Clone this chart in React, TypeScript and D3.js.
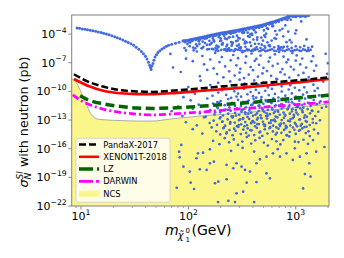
import React from 'react';
import * as d3 from 'd3';

const W = 344;
const H = 258;
const PLOT = { left: 71.7, top: 15, right: 329, bottom: 206 };

const massDomain: [number, number] = [8.2, 2040];
const sigmaDomain: [number, number] = [1e-22, 1e-2];

const xTickValues = [10, 100, 1000];
const xTickExps = ['1', '2', '3'];
const yTickValues = [1e-22, 1e-19, 1e-16, 1e-13, 1e-10, 1e-7, 1e-4];
const yTickExps = ['−22', '−19', '−16', '−13', '−10', '−7', '−4'];

// Experimental limits
const pandaxMass = [8.6, 12.1, 16.1, 23.1, 33, 46.8, 67.4, 136.6, 282.5, 575, 1160, 2040];
const pandaxSigma = [6.3e-9, 8.7e-10, 3.2e-10, 1.35e-10, 1e-10, 8.9e-11, 1.15e-10, 2.2e-10, 4.6e-10, 8.7e-10, 1.6e-9, 2.9e-9];
const xenonMass = [8.6, 12.1, 16.1, 23.1, 33, 46.8, 67.4, 136.6, 282.5, 575, 1160, 2040];
const xenonSigma = [2e-9, 3.2e-10, 1.15e-10, 6.3e-11, 5.2e-11, 5.2e-11, 6.3e-11, 1.15e-10, 2.2e-10, 4.6e-10, 1e-9, 2e-9];
const lzMass = [9.8, 12.1, 16.1, 23.1, 33, 46.8, 67.4, 136.6, 282.5, 575, 1160, 2040];
const lzSigma = [3.5e-11, 1.1e-11, 5e-12, 2.7e-12, 1.8e-12, 1.66e-12, 1.8e-12, 2.9e-12, 5.5e-12, 1.05e-11, 2.3e-11, 4e-11];
const darwinMass = [8.4, 9.8, 12.1, 16.1, 23.1, 33, 46.8, 67.4, 136.6, 282.5, 575, 1160, 2040];
const darwinSigma = [4.4e-11, 1.26e-11, 4e-12, 1.4e-12, 6.3e-13, 4.2e-13, 3.5e-13, 4.2e-13, 7.2e-13, 1.4e-12, 2.5e-12, 4.7e-12, 7.9e-12];
const ncsMass = [8.2, 9.1, 10.15, 11.3, 13.0, 15.0, 23.1, 33, 46.8, 67.4, 136.6, 282.5, 575, 1160, 2040];
const ncsSigma = [2.3e-9, 7e-10, 6.3e-11, 3.7e-12, 2.2e-13, 1.15e-13, 8.9e-14, 7.9e-14, 7.9e-14, 1.26e-13, 2.8e-13, 5e-13, 1.1e-12, 2.5e-12, 4.7e-12];

// Scan points [mass (GeV), sigma (pb)]
const ridgePoints: [number, number][] = [
  [9.2, 4.4e-4], [9.7, 4.0e-4], [10.3, 3.5e-4], [10.9, 3.2e-4], [11.5, 2.9e-4], [12.2, 2.6e-4], [12.9, 2.3e-4],
  [13.7, 1.95e-4], [14.5, 1.7e-4], [15.4, 1.45e-4], [16.3, 1.23e-4], [17.3, 1.02e-4], [18.3, 8.5e-5], [19.4, 6.8e-5],
  [20.6, 5.2e-5], [21.8, 4.2e-5], [23.1, 3.2e-5], [24.5, 2.45e-5], [26, 1.8e-5], [27.5, 1.35e-5], [29.2, 9.8e-6],
  [30.9, 6.6e-6], [32.7, 4.3e-6], [34.6, 2.6e-6], [36.5, 1.55e-6], [38.2, 8.9e-7], [39.8, 4.9e-7], [41.2, 2.4e-7],
  [42.5, 1.1e-7], [43.6, 5.6e-8], [44.5, 3.2e-8], [45.0, 2e-8], [45.8, 4.5e-8], [46.8, 8.5e-8], [47.8, 1.8e-7],
  [48.9, 4e-7], [50.5, 7e-7], [52.1, 1.2e-6], [54.3, 1.8e-6], [56.8, 2.75e-6], [59.5, 3.8e-6], [62.5, 5.5e-6],
  [65.5, 6.9e-6], [70, 8.5e-6], [76, 1.07e-5], [82, 1.38e-5], [89, 1.9e-5],
];

const bandEdgePoints: [number, number][] = [
  [90, 2e-5], [97, 2.2e-5], [105, 2.7e-5], [113, 3.2e-5], [122, 3.8e-5], [131, 4.5e-5], [141, 5.4e-5], [152, 6.6e-5],
  [163, 7.9e-5], [175, 9.3e-5], [188, 1.1e-4], [202, 1.3e-4], [217, 1.5e-4], [233, 1.7e-4], [250, 1.95e-4],
  [268, 2.2e-4], [288, 2.6e-4], [309, 3.1e-4], [332, 3.6e-4], [356, 4.3e-4], [382, 5e-4], [410, 5.9e-4],
  [440, 6.9e-4], [472, 8.1e-4], [506, 1e-3], [543, 1.26e-3], [583, 1.6e-3], [625, 2e-3], [671, 2.6e-3],
  [720, 3.5e-3], [772, 4.7e-3], [828, 6e-3], [888, 7.6e-3],
  [850, 8e-3], [920, 9e-3], [960, 7.5e-3], [1000, 9e-3], [1050, 8.5e-3], [1100, 9.3e-3], [1150, 8e-3],
  [1200, 9e-3], [1260, 8.2e-3], [1320, 8.8e-3], [1000, 6.5e-3], [1100, 7e-3], [1230, 6.8e-3], [940, 8.3e-3], [1180, 8.6e-3],
  [93.5, 2.1e-5], [101, 2.45e-5], [109, 2.95e-5], [117.5, 3.5e-5], [126.5, 4.1e-5], [136, 4.9e-5], [146.5, 6e-5], [157.5, 7.2e-5],
  [169, 8.6e-5], [181.5, 1e-4], [195, 1.2e-4], [209.5, 1.4e-4], [225, 1.6e-4], [241.5, 1.82e-4], [259, 2.07e-4], [278, 2.4e-4],
  [298, 2.85e-4], [320, 3.35e-4], [344, 3.95e-4], [369, 4.65e-4], [396, 5.45e-4], [425, 6.4e-4], [456, 7.5e-4], [489, 9e-4],
  [524, 1.12e-3], [563, 1.42e-3], [604, 1.8e-3], [648, 2.3e-3], [695, 3e-3], [746, 4.05e-3], [800, 5.3e-3], [858, 6.8e-3],
  [93.5, 1.5e-5], [101, 1.9e-5], [109, 2e-5], [117.5, 2.6e-5], [126.5, 2.7e-5], [136, 3.8e-5], [146.5, 4.2e-5], [157.5, 5.2e-5],
  [169, 6.1e-5], [181.5, 7.5e-5], [195, 8.2e-5], [209.5, 1.05e-4], [225, 1.1e-4], [241.5, 1.4e-4], [259, 1.45e-4], [278, 1.8e-4],
  [298, 2e-4], [320, 2.5e-4], [344, 2.7e-4], [369, 3.4e-4], [396, 3.8e-4], [425, 4.7e-4], [456, 5.1e-4], [489, 6.8e-4],
  [524, 7.8e-4], [563, 1.05e-3], [604, 1.25e-3], [648, 1.7e-3], [695, 2.1e-3], [746, 3e-3], [800, 3.7e-3], [858, 5e-3],
];

const bandPoints: [number, number][] = [
  [170, 2.6e-6], [190, 1.7e-6], [215, 2.4e-6], [240, 1.9e-6], [265, 1.6e-6], [290, 2.3e-6], [320, 1.8e-6], [350, 2.5e-6],
  [385, 1.7e-6], [420, 2.2e-6], [460, 1.6e-6], [500, 2.4e-6], [550, 1.9e-6], [600, 2.6e-6], [660, 1.7e-6], [720, 2.3e-6],
  [790, 1.65e-6], [860, 2.5e-6], [940, 1.8e-6], [1030, 2.35e-6], [1120, 1.7e-6], [1220, 2.2e-6], [1330, 1.85e-6],
  [1080, 1.9e-6], [1170, 2.5e-6], [1270, 1.65e-6], [1380, 2.3e-6], [980, 2.05e-6], [900, 1.7e-6], [825, 2.2e-6], [755, 1.9e-6],
  [690, 2.55e-6], [630, 1.8e-6], [575, 2.2e-6], [525, 1.7e-6], [480, 2e-6], [440, 2.6e-6], [402, 1.9e-6], [367, 2.15e-6],
  [335, 1.65e-6], [305, 2e-6], [277, 2.45e-6], [252, 2.1e-6], [227, 1.75e-6], [202, 2.2e-6], [180, 1.9e-6],
  [520, 3.8e-6], [575, 5.2e-6], [630, 4.1e-6], [690, 5.6e-6], [760, 3.9e-6], [835, 4.9e-6], [915, 3.6e-6], [1000, 5.3e-6],
  [1100, 4.2e-6], [1200, 5.8e-6], [1310, 3.7e-6], [1420, 4.8e-6],
  [92, 3.5e-6], [108, 2.3e-5], [118, 8.5e-6], [133, 3.3e-6], [148, 3.7e-5], [158, 7.8e-6], [172, 2.3e-5], [186, 2.9e-6],
  [198, 1.95e-5], [212, 1.26e-4], [226, 5e-6], [243, 4.7e-5], [256, 9.3e-6], [274, 2.6e-6], [292, 4.1e-5], [306, 3.5e-6],
  [326, 1.86e-4], [341, 1.62e-5], [365, 2.3e-6], [390, 1.12e-4], [417, 9.5e-6], [447, 5.5e-4], [478, 4.3e-5], [512, 5.6e-6],
  [552, 3.5e-4], [596, 2.1e-5], [645, 2.1e-4], [702, 3.5e-6], [765, 5.9e-5], [835, 3e-3], [915, 1.32e-5], [1010, 2.5e-4],
  [1125, 2.1e-3], [1260, 2.8e-5],
  [103, 5.4e-6], [112, 2e-6], [125, 1.74e-5], [138, 4.7e-6], [153, 5.6e-5], [165, 1.23e-5], [179, 3.6e-6], [192, 4.9e-5],
  [205, 8.3e-6], [219, 3.5e-5], [235, 2.7e-6], [250, 1.48e-5], [265, 1.55e-4], [283, 5.9e-6], [300, 3.5e-5], [318, 1.35e-4],
  [335, 1.05e-5], [355, 2e-6], [378, 9.5e-5], [403, 2.7e-5], [432, 4.4e-6], [462, 7.4e-4], [495, 2.1e-5], [530, 1.12e-4],
  [570, 7.2e-6], [615, 7.2e-4], [665, 8.9e-5], [730, 4.1e-6], [800, 8.1e-4], [880, 2.3e-5],
  [98, 9.1e-6], [116, 3.3e-6], [129, 2.8e-5], [143, 1.17e-5], [156, 2.7e-6], [169, 3.5e-5], [183, 6.3e-6], [196, 1e-4],
  [209, 1.15e-5], [223, 2.5e-6], [238, 4.4e-5], [253, 6.2e-6], [270, 1.48e-4], [288, 2.1e-5], [308, 4.1e-6], [330, 1.38e-4],
  [350, 1.32e-5], [372, 5.1e-5], [396, 2.2e-6], [424, 1.48e-4], [452, 9.8e-6], [485, 6e-4], [520, 5.1e-5], [560, 6.3e-6],
  [605, 6.5e-4], [655, 3.2e-5], [710, 2.5e-4], [775, 4.6e-6], [850, 1.82e-4], [940, 6.8e-3],
  [101, 1.45e-5], [121, 5.4e-6], [136, 1.62e-5], [150, 2.5e-6], [162, 9.8e-6], [176, 6.8e-5], [189, 4.8e-6], [202, 2.1e-5],
  [216, 6.9e-5], [230, 7.9e-6], [246, 1.95e-6], [261, 5.4e-5], [278, 1.86e-5], [297, 3.8e-6], [314, 3.1e-4], [338, 1.45e-5],
  [360, 6e-5], [384, 5.8e-6], [410, 2.6e-4], [438, 4.5e-5], [470, 3.5e-6], [505, 2.4e-4], [545, 1.38e-5], [588, 1.23e-3],
  [635, 3.7e-5], [690, 3e-6], [750, 3.6e-4], [820, 1.41e-5], [900, 3.2e-3], [990, 1.15e-4],
  [95, 1.95e-6], [104, 1.35e-5], [111, 3.9e-6], [119, 2.95e-5], [127, 9.3e-6], [134, 3.3e-6], [142, 3.3e-5], [149, 7.4e-6],
  [157, 2e-5], [166, 2.8e-6], [174, 1.66e-5], [182, 9.3e-5], [191, 4.6e-6], [200, 3.5e-5], [208, 8.1e-6], [218, 2.5e-6],
  [228, 2.95e-5], [239, 3.2e-6], [249, 1.12e-4], [259, 1.26e-5], [271, 2.3e-6], [284, 6.9e-5], [296, 7.8e-6], [311, 2.45e-4],
  [325, 2.6e-5], [340, 4.7e-6], [357, 1.41e-4], [375, 1.35e-5], [393, 8.1e-5], [415, 3e-6], [437, 2.6e-5], [458, 4.8e-4],
  [483, 7.9e-6], [510, 7.2e-5], [540, 4.1e-4],
];

const scanPoints: [number, number][] = [
  [68, 8.3e-7], [95, 2.7e-7], [120, 1.5e-6], [135, 5.1e-7], [160, 2.2e-7], [178, 1.07e-6], [205, 3.9e-7], [230, 1.8e-6],
  [262, 6.5e-7], [290, 3e-7], [318, 1.26e-6], [345, 4.6e-7], [388, 9.3e-7], [430, 2.5e-7], [470, 5.6e-7], [520, 1.66e-6],
  [575, 3.5e-7], [640, 7.6e-7], [700, 1.35e-6], [770, 4.3e-7], [850, 2.1e-7], [930, 1.02e-6], [1020, 5.9e-7], [1150, 2.8e-7],
  [1300, 1.95e-6], [1450, 4.9e-7], [1900, 8.7e-7],
  [72, 3.2e-8], [110, 1.45e-7], [140, 6.9e-8], [172, 2.6e-8], [195, 1.17e-7], [220, 4.1e-8], [248, 1.8e-7], [280, 5.4e-8],
  [305, 2.3e-8], [340, 9.8e-8], [380, 3.6e-8], [415, 1.58e-7], [455, 6.2e-8], [500, 2.9e-8], [560, 1.32e-7], [610, 4.7e-8],
  [680, 7.9e-8], [750, 2.2e-8], [820, 1.12e-7], [900, 3.8e-8], [1000, 1.7e-7], [1100, 6.6e-8], [1250, 3.1e-8], [1400, 1.41e-7],
  [1550, 5e-8], [1990, 9.1e-8],
  [85, 1.07e-8], [128, 3.9e-9], [150, 1.78e-8], [185, 6.5e-9], [212, 3e-9], [240, 1.26e-8], [270, 4.6e-9], [300, 9.3e-9],
  [330, 2.5e-9], [365, 5.6e-9], [400, 1.66e-8], [445, 3.5e-9], [490, 7.6e-9], [540, 1.35e-8], [590, 4.3e-9], [660, 2.1e-9],
  [720, 1.02e-8], [790, 5.9e-9], [870, 2.8e-9], [960, 1.95e-8], [1060, 4.9e-9], [1180, 8.7e-9], [1320, 3.2e-9], [1480, 1.45e-8],
  [1960, 6.9e-9],
  [100, 2.9e-10], [130, 1.32e-9], [160, 4.7e-10], [190, 7.9e-10], [215, 2.2e-10], [245, 1.12e-9], [275, 3.8e-10], [300, 1.7e-9],
  [335, 6.6e-10], [370, 3.1e-10], [410, 1.41e-9], [450, 5e-10], [500, 9.1e-10], [550, 2.6e-10], [610, 7.4e-10], [670, 1.9e-9],
  [740, 3.4e-10], [810, 1e-9], [890, 4.5e-10], [980, 2.4e-10], [1080, 8.3e-10], [1200, 2.7e-10], [1320, 1.5e-9], [1460, 5.1e-10],
  [1600, 2.2e-10], [1800, 1.07e-9],
  [90, 2.5e-11], [115, 5.6e-11], [145, 1.66e-10], [168, 3.5e-11], [190, 7.6e-11], [205, 1.35e-10], [225, 4.3e-11], [250, 2.1e-11],
  [268, 1.02e-10], [290, 5.9e-11], [310, 2.8e-11], [330, 1.95e-10], [355, 4.9e-11], [380, 8.7e-11], [400, 3.2e-11], [425, 1.45e-10],
  [455, 6.9e-11], [480, 2.6e-11], [520, 1.17e-10], [560, 4.1e-11], [600, 1.8e-10], [640, 5.4e-11], [690, 2.3e-11], [740, 9.8e-11],
  [800, 3.6e-11], [860, 1.58e-10], [920, 6.2e-11], [1000, 2.9e-11], [1080, 1.32e-10], [1170, 4.7e-11], [1270, 7.9e-11],
  [1380, 2.2e-11], [1500, 1.12e-10], [1650, 3.8e-11],
  [80, 2.6e-12], [105, 1.17e-11], [125, 4.1e-12], [150, 1.8e-11], [170, 5.4e-12], [185, 2.3e-12], [200, 9.8e-12], [218, 3.6e-12],
  [235, 1.58e-11], [255, 6.2e-12], [272, 2.9e-12], [290, 1.32e-11], [310, 4.7e-12], [325, 7.9e-12], [345, 2.2e-12], [365, 1.12e-11],
  [385, 3.8e-12], [405, 1.7e-11], [430, 6.6e-12], [450, 3.1e-12], [475, 1.41e-11], [500, 5e-12], [530, 9.1e-12], [560, 2.6e-12],
  [590, 7.4e-12], [620, 1.9e-11], [650, 3.4e-12], [690, 1e-11], [730, 4.5e-12], [770, 2.4e-12], [810, 8.3e-12], [860, 2.7e-12],
  [910, 1.5e-11], [960, 5.1e-12], [1020, 2.2e-12], [1080, 1.07e-11], [1150, 3.9e-12], [1220, 1.78e-11], [1300, 6.5e-12],
  [1380, 3e-12], [1470, 1.26e-11], [1570, 4.6e-12], [1700, 9.3e-12], [1920, 2.5e-12],
  [70, 8.3e-13], [88, 2.7e-13], [110, 1.5e-12], [128, 5.1e-13], [145, 2.2e-13], [160, 1.07e-12], [175, 3.9e-13], [188, 1.78e-12],
  [198, 6.5e-13], [210, 3e-13], [222, 1.26e-12], [235, 4.6e-13], [248, 9.3e-13], [260, 2.5e-13], [272, 5.6e-13], [285, 1.66e-12],
  [298, 3.5e-13], [312, 7.6e-13], [326, 1.35e-12], [340, 4.3e-13], [355, 2.1e-13], [370, 1.02e-12], [385, 5.9e-13], [400, 2.8e-13],
  [418, 1.95e-12], [435, 4.9e-13], [452, 8.7e-13], [470, 3.2e-13], [490, 1.45e-12], [510, 6.9e-13], [530, 2.6e-13], [550, 1.17e-12],
  [575, 4.1e-13], [600, 1.8e-12], [625, 5.4e-13], [650, 2.3e-13], [680, 9.8e-13], [710, 3.6e-13], [740, 1.58e-12], [770, 6.2e-13],
  [800, 2.9e-13], [840, 1.32e-12], [880, 4.7e-13], [920, 7.9e-13], [960, 2.2e-13], [1000, 1.12e-12], [1050, 3.8e-13], [1100, 1.7e-12],
  [1160, 6.6e-13], [1220, 3.1e-13], [1290, 1.41e-12], [1360, 5e-13], [1430, 9.1e-13], [1520, 2.6e-13], [1620, 7.4e-13], [1750, 1.9e-12],
  [95, 5.9e-14], [120, 2.8e-14], [140, 1.95e-13], [158, 4.9e-14], [172, 8.7e-14], [185, 3.2e-14], [196, 1.45e-13], [208, 6.9e-14],
  [220, 2.6e-14], [232, 1.17e-13], [245, 4.1e-14], [258, 1.8e-13], [270, 5.4e-14], [284, 2.3e-14], [296, 9.8e-14], [310, 3.6e-14],
  [324, 1.58e-13], [338, 6.2e-14], [352, 2.9e-14], [368, 1.32e-13], [384, 4.7e-14], [400, 7.9e-14], [418, 2.2e-14], [436, 1.12e-13],
  [455, 3.8e-14], [475, 1.7e-13], [495, 6.6e-14], [518, 3.1e-14], [540, 1.41e-13], [565, 5e-14], [590, 9.1e-14], [615, 2.6e-14],
  [645, 7.4e-14], [675, 1.9e-13], [705, 3.4e-14], [740, 1e-13], [775, 4.5e-14], [810, 2.4e-14], [850, 8.3e-14], [890, 2.7e-14],
  [935, 1.5e-13], [980, 5.1e-14], [1030, 2.2e-14], [1080, 1.07e-13], [1140, 3.9e-14], [1200, 1.78e-13], [1270, 6.5e-14],
  [1350, 3e-14], [1440, 1.26e-13], [1550, 4.6e-14], [1680, 9.3e-14],
  [110, 1.12e-14], [135, 3.8e-15], [165, 1.7e-14], [182, 6.6e-15], [198, 3.1e-15], [212, 1.41e-14], [228, 5e-15], [242, 9.1e-15],
  [258, 2.6e-15], [275, 7.4e-15], [292, 1.9e-14], [308, 3.4e-15], [325, 1e-14], [345, 4.5e-15], [365, 2.4e-15], [388, 8.3e-15],
  [410, 2.7e-15], [435, 1.5e-14], [460, 5.1e-15], [488, 2.2e-15], [515, 1.07e-14], [545, 3.9e-15], [578, 1.78e-14], [612, 6.5e-15],
  [650, 3e-15], [690, 1.26e-14], [735, 4.6e-15], [780, 9.3e-15], [830, 2.5e-15], [880, 5.6e-15], [940, 1.66e-14], [1000, 3.5e-15],
  [1070, 7.6e-15], [1150, 1.35e-14], [1240, 4.3e-15], [1350, 2.1e-15], [1480, 1.02e-14],
  [1615, 4e-15], [1094, 9e-15], [1260, 2e-14], [820, 2.7e-15],
  [170, 6.5e-16], [195, 3e-16], [218, 1.26e-15], [240, 4.6e-16], [265, 9.3e-16], [290, 2.5e-16], [318, 5.6e-16], [350, 1.66e-15],
  [385, 3.5e-16], [420, 7.6e-16], [460, 1.35e-15], [505, 4.3e-16], [550, 2.1e-16], [600, 1.02e-15], [660, 5.9e-16], [720, 2.8e-16],
  [870, 1.95e-15], [1060, 4.9e-16], [1180, 8.7e-16], [1300, 3.2e-16],
  [765, 8e-16], [983, 5.4e-16], [1450, 8e-16], [86, 2.5e-16],
];

const coreExtraPoints: [number, number][] = [
  [178, 6.6e-13], [193, 6.6e-12], [207, 6.6e-14], [226, 3.8e-15], [241, 2.2e-12], [253, 2.4e-13], [267, 1.26e-14], [281, 2.9e-11],
  [303, 1.15e-13], [317, 1.15e-12], [333, 2.2e-14], [349, 8.7e-12], [362, 4.6e-13], [379, 8.7e-15], [394, 3.8e-12], [412, 5.5e-14],
  [428, 2.2e-11], [443, 1.66e-13], [467, 6e-15], [486, 1.8e-12], [503, 3.5e-14], [524, 1.26e-11], [547, 2.9e-13], [571, 1.38e-14],
  [594, 6e-12], [618, 9.5e-14], [641, 7.9e-13], [668, 4.6e-15], [697, 3.2e-12], [726, 4.2e-14], [756, 1.66e-11], [789, 3.8e-13],
  [823, 1.8e-14], [856, 7.9e-12], [894, 1.26e-13], [931, 1.38e-12], [972, 9.5e-15], [1015, 6e-13], [1063, 2.6e-11], [1112, 2.6e-14],
  [1176, 2e-12], [1238, 7.9e-14], [1315, 6.6e-15], [1410, 9.5e-13],
  [186, 7.6e-12], [199, 1.95e-13], [214, 1.62e-14], [233, 1.17e-12], [246, 6e-14], [263, 5e-12], [278, 2.95e-13], [294, 3e-14],
  [309, 2.9e-12], [322, 1.29e-13], [338, 6.3e-13], [357, 1.32e-14], [374, 1.78e-12], [392, 6.9e-14], [405, 6.2e-12], [421, 3.6e-13],
  [439, 3.7e-14], [458, 3.5e-12], [478, 1.58e-13], [497, 9.5e-13], [515, 2.3e-14], [537, 5.1e-13], [560, 8.7e-12], [583, 4.9e-14],
  [607, 1.26e-12], [632, 1.12e-13], [659, 1.74e-14], [686, 7.2e-13], [715, 2.45e-14], [745, 4.4e-12], [777, 1.7e-13], [810, 1.41e-14],
  [845, 1.55e-12], [882, 7.4e-14], [920, 7.1e-12], [960, 3.4e-13], [1003, 3.5e-14], [1048, 2.5e-12], [1096, 1.2e-13], [1147, 1.02e-12],
  [1205, 1.86e-14], [1272, 2.2e-13], [1345, 5.8e-12], [1440, 5.2e-14],
];

const deepPoints: [number, number][] = [
  [189, 2.6e-22], [236, 3.5e-22], [272, 2.6e-22], [410, 2.6e-22], [281, 2.1e-21], [324, 3.2e-21], [78, 8e-21], [113, 6e-21],
  [105, 2.8e-20], [177, 2.4e-20], [190, 3.5e-20], [227, 6.3e-20], [349, 2.8e-20], [431, 3.2e-20], [534, 2.6e-19], [575, 8e-20],
  [1170, 7e-21], [1218, 2.2e-19], [1375, 1.2e-19], [1335, 3e-18], [103, 4e-19], [128, 7e-19], [148, 6e-19], [159, 3e-18],
  [173, 4.4e-18], [90, 1.3e-18], [83, 1.26e-17], [82, 4.9e-17], [123, 3.3e-17], [119, 1e-17], [137, 3.8e-17], [159, 8.7e-17],
  [227, 2e-18], [281, 3e-18], [262, 9e-19], [313, 1.3e-18], [337, 6e-19], [375, 4e-19], [431, 3e-18], [464, 7.8e-18],
  [534, 1.45e-17], [614, 3.3e-17], [713, 1.45e-17], [820, 3.3e-17], [940, 6.6e-18], [1094, 1.45e-17], [1260, 3.3e-17],
  [1550, 4.9e-17], [1850, 1.5e-16], [250, 6e-17], [320, 1.2e-16], [410, 5e-17], [680, 9e-17], [980, 1.1e-16],
];

const legendNames = ['PandaX-2017', 'XENON1T-2018', 'LZ', 'DARWIN', 'NCS'];
const legendColors = ['#000000', '#ff0000', '#006400', '#ff00ff', '#fbf68a'];

const FONT = 'DejaVu Sans, Liberation Sans, sans-serif';
const BLUE = '#4169e1';
const NCS_COLOR = '#fbf68a';

export default function App() {
  const x = d3.scaleLog().domain(massDomain).range([PLOT.left, PLOT.right]);
  const y = d3.scaleLog().domain(sigmaDomain).range([PLOT.bottom, PLOT.top]);

  const line = d3
    .line<[number, number]>()
    .x((d) => x(d[0]))
    .y((d) => y(d[1]))
    .curve(d3.curveMonotoneX);
  const zip = (a: number[], b: number[]) => a.map((v, i) => [v, b[i]] as [number, number]);

  const area = d3
    .area<[number, number]>()
    .x((d) => x(d[0]))
    .y0(PLOT.bottom)
    .y1((d) => y(d[1]))
    .curve(d3.curveMonotoneX);

  const ncs = zip(ncsMass, ncsSigma);

  const minorX: number[] = [];
  [1, 10, 100, 1000].forEach((dec) => {
    for (let k = 2; k <= 9; k++) {
      const v = dec * k;
      if (v >= massDomain[0] && v <= massDomain[1]) minorX.push(v);
    }
  });

  const legendRowY = [144.5, 156.8, 169.1, 181.4, 193.7];
  const frameColor = '#808080';
  const smallPts = [...scanPoints, ...coreExtraPoints, ...deepPoints, ...bandPoints];
  const bigPts = [...ridgePoints, ...bandEdgePoints];

  return (
    <svg
      width={W}
      height={H}
      style={{ position: 'absolute', left: 0, top: 0, background: '#fff' }}
      fontFamily={FONT}
    >
      <defs>
        <clipPath id="plotclip">
          <rect x={PLOT.left} y={PLOT.top} width={PLOT.right - PLOT.left} height={PLOT.bottom - PLOT.top} />
        </clipPath>
      </defs>
      <rect x={0} y={0} width={W} height={H} fill="#fff" />
      <g clipPath="url(#plotclip)">
        <path d={area(ncs) || ''} fill={NCS_COLOR} />
        <path d={line(ncs) || ''} fill="none" stroke="#999" strokeWidth={0.8} />
        {smallPts.map((p, i) => (
          <circle key={'s' + i} cx={x(p[0])} cy={y(p[1])} r={1.35} fill={BLUE} />
        ))}
        {bigPts.map((p, i) => (
          <circle key={'r' + i} cx={x(p[0])} cy={y(p[1])} r={1.5} fill={BLUE} />
        ))}
        <path d={line(zip(xenonMass, xenonSigma)) || ''} fill="none" stroke="#ff0000" strokeWidth={2.6} />
        <path d={line(zip(pandaxMass, pandaxSigma)) || ''} fill="none" stroke="#000" strokeWidth={2.5} strokeDasharray="7,3" />
        <path d={line(zip(lzMass, lzSigma)) || ''} fill="none" stroke="#006400" strokeWidth={3.5} strokeDasharray="9,4.5" />
        <path d={line(zip(darwinMass, darwinSigma)) || ''} fill="none" stroke="#ff00ff" strokeWidth={2.8} strokeDasharray="7,3,2,3" />
      </g>

      <rect
        x={PLOT.left}
        y={PLOT.top}
        width={PLOT.right - PLOT.left}
        height={PLOT.bottom - PLOT.top}
        fill="none"
        stroke={frameColor}
        strokeWidth={1}
      />

      {xTickValues.map((v, i) => (
        <g key={'xt' + i}>
          <line x1={x(v)} x2={x(v)} y1={PLOT.bottom} y2={PLOT.bottom + 3.5} stroke={frameColor} strokeWidth={0.9} />
          <text x={x(v)} y={219.5} textAnchor="middle" fontSize={11} fill="#000">
            10
            <tspan fontSize={7.7} dy={-5}>
              {xTickExps[i]}
            </tspan>
          </text>
        </g>
      ))}
      {minorX.map((v, i) => (
        <line key={'xm' + i} x1={x(v)} x2={x(v)} y1={PLOT.bottom} y2={PLOT.bottom + 2} stroke={frameColor} strokeWidth={0.7} />
      ))}

      {yTickValues.map((v, i) => (
        <g key={'yt' + i}>
          <line x1={PLOT.left - 3.5} x2={PLOT.left} y1={y(v)} y2={y(v)} stroke={frameColor} strokeWidth={0.9} />
          <text x={66.7} y={y(v) + 4} textAnchor="end" fontSize={11} fill="#000">
            10
            <tspan fontSize={7.7} dy={-5.5}>
              {yTickExps[i]}
            </tspan>
          </text>
        </g>
      ))}

      <text transform="translate(28,122) rotate(-90)" textAnchor="middle" fontSize={12.7} fill="#000">
        <tspan fontStyle="italic">σ</tspan>
        <tspan fontStyle="italic" fontSize={8.9} dy={3}>
          N
        </tspan>
        <tspan fontStyle="italic" fontSize={8.9} dx={-6.6} dy={-8.5}>
          SI
        </tspan>
        <tspan dy={5.5}>{' with neutron (pb)'}</tspan>
      </text>

      <text x={165} y={235} fontSize={14} fontStyle="italic" fill="#000">
        m
      </text>
      <text x={177.8} y={239} fontSize={9.8} fontStyle="italic" fill="#000">
        χ̃
      </text>
      <text x={185.6} y={232.5} fontSize={7} fill="#000">
        0
      </text>
      <text x={185.6} y={242} fontSize={7} fill="#000">
        1
      </text>
      <text x={191.5} y={235} fontSize={14} fill="#000">
        (GeV)
      </text>

      <rect x={76} y={138.3} width={94} height={64} rx={2} fill="#fff" fillOpacity={0.8} stroke="#cccccc" strokeWidth={0.8} />
      {legendNames.map((name, i) => {
        const cy = legendRowY[i];
        let handle: React.ReactNode;
        if (i === 4) {
          handle = <rect x={79} y={cy - 3} width={20} height={6} fill={legendColors[i]} />;
        } else {
          const dash = i === 0 ? '7,3' : i === 2 ? '14,4' : i === 3 ? '14,3' : undefined;
          const sw = i === 2 ? 3.5 : i === 3 ? 2.8 : 2.5;
          handle = (
            <line x1={79} x2={99} y1={cy} y2={cy} stroke={legendColors[i]} strokeWidth={sw} strokeDasharray={dash} />
          );
        }
        return (
          <g key={'lg' + i}>
            {handle}
            <text x={103.3} y={cy + 3} fontSize={8.3} fill="#000">
              {name}
            </text>
          </g>
        );
      })}
    </svg>
  );
}
